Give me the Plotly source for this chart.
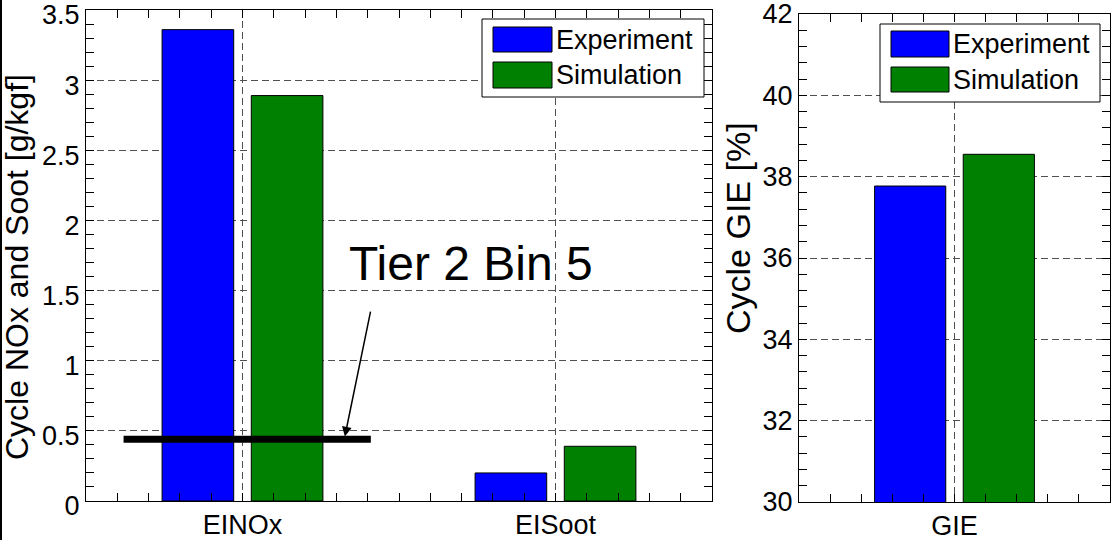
import plotly.graph_objects as go

# ---------------- data ----------------
categories_left = ["EINOx", "EISoot"]
experiment_left = [3.36, 0.20]
simulation_left = [2.89, 0.39]

categories_right = ["GIE"]
experiment_right = [37.77]
simulation_right = [38.55]

series_names = ["Experiment", "Simulation"]
series_colors = ["#0000FF", "#008000"]

left_yticks = [0, 0.5, 1, 1.5, 2, 2.5, 3, 3.5]
left_yticklabels = ["0", "0.5", "1", "1.5", "2", "2.5", "3", "3.5"]
right_yticks = [30, 32, 34, 36, 38, 40, 42]
right_yticklabels = ["30", "32", "34", "36", "38", "40", "42"]

tier_label = "Tier 2 Bin 5"
tier_value = 0.44
tier_x_span = [0.62, 1.41]
arrow_tail = [1.41, 1.36]
arrow_head = [1.327, 0.46]

left_ytitle = "Cycle NOx and Soot [g/kgf]"
right_ytitle = "Cycle GIE [%]"

# ---------------- layout helpers ----------------
W, H = 1115, 540
FONT = "Liberation Sans, Arial, Helvetica, sans-serif"
TICK_SIZE = 27


def px(x):
    return x / W


def py(y):
    return 1 - y / H


pos_left = list(range(1, len(categories_left) + 1))
pos_right = list(range(1, len(categories_right) + 1))

fig = go.Figure()
left_series = [experiment_left, simulation_left]
right_series = [experiment_right, simulation_right]
for name, color, vals in zip(series_names, series_colors, left_series):
    fig.add_trace(go.Bar(x=pos_left, y=vals, name=name, marker_color=color,
                         marker_line=dict(color="black", width=1),
                         xaxis="x", yaxis="y", showlegend=False))
for name, color, vals in zip(series_names, series_colors, right_series):
    fig.add_trace(go.Bar(x=pos_right, y=vals, name=name, marker_color=color,
                         marker_line=dict(color="black", width=1),
                         xaxis="x2", yaxis="y2", showlegend=False))

grid = dict(showgrid=True, gridcolor="#505050", gridwidth=1, griddash="7px,4px")
frame = dict(showline=True, linecolor="black", linewidth=1, mirror="ticks",
             ticks="inside", ticklen=8, tickcolor="black", zeroline=False,
             automargin=False, ticklabeloverflow="allow",
             tickfont=dict(size=TICK_SIZE, family=FONT, color="black"))

fig.update_layout(
    template="none",
    width=W, height=H,
    margin=dict(l=0, r=0, t=0, b=0),
    paper_bgcolor="white", plot_bgcolor="white",
    font=dict(family=FONT, size=TICK_SIZE, color="black"),
    barmode="group", bargap=0.43, bargroupgap=0.197,
    xaxis=dict(domain=[px(86), px(712)], range=[0.5, len(categories_left) + 0.5],
               tickmode="array", tickvals=pos_left, ticktext=categories_left,
               minor=dict(tick0=0.5, dtick=0.1, ticks="inside", ticklen=8,
                          tickcolor="black", showgrid=False),
               anchor="y", **grid, **frame),
    yaxis=dict(domain=[py(501), py(10)], range=[0, 3.5],
               tickmode="array", tickvals=left_yticks, ticktext=left_yticklabels,
               ticklabelshift=5,
               minor=dict(tickmode="linear", tick0=0, dtick=0.1, ticks="inside", ticklen=8,
                          tickcolor="black", showgrid=False),
               anchor="x", **grid, **frame),
    xaxis2=dict(domain=[px(799), px(1110)], range=[0.5, len(categories_right) + 0.5],
                tickmode="array", tickvals=pos_right, ticktext=categories_right,
                minor=dict(tick0=0.5, dtick=0.1, ticks="inside", ticklen=8,
                           tickcolor="black", showgrid=False),
                anchor="y2", **grid, **frame),
    yaxis2=dict(domain=[py(502), py(14)], range=[30, 42],
                tickmode="array", tickvals=right_yticks, ticktext=right_yticklabels,
                minor=dict(tickmode="linear", tick0=30, dtick=0.4, ticks="inside", ticklen=8,
                           tickcolor="black", showgrid=False),
                anchor="x2", **grid, **frame),
)

shapes = []
annotations = []

# Tier 2 Bin 5 line
shapes.append(dict(type="line", xref="x", yref="y", x0=tier_x_span[0], x1=tier_x_span[1],
                   y0=tier_value, y1=tier_value, line=dict(color="black", width=7), layer="above"))
annotations.append(dict(xref="x", yref="y", x=arrow_head[0], y=arrow_head[1],
                        axref="x", ayref="y", ax=arrow_tail[0], ay=arrow_tail[1],
                        showarrow=True, arrowhead=2, arrowsize=1.3, arrowwidth=1.5,
                        arrowcolor="black", text=""))
annotations.append(dict(xref="x", yref="y", x=1.73, y=1.69, text=tier_label,
                        showarrow=False, font=dict(size=48, family=FONT, color="black"),
                        xanchor="center", yanchor="middle"))

# axis titles
annotations.append(dict(xref="paper", yref="paper", x=px(17), y=py(267), text=left_ytitle,
                        textangle=-90, showarrow=False, xanchor="center", yanchor="middle",
                        font=dict(size=32, family=FONT, color="black")))
annotations.append(dict(xref="paper", yref="paper", x=px(738), y=py(228), text=right_ytitle,
                        textangle=-90, showarrow=False, xanchor="center", yanchor="middle",
                        font=dict(size=34, family=FONT, color="black")))

# custom legends (MATLAB style wide patches)
def legend(box, patch_x, patch_rows, text_x):
    x0, y0, x1, y1 = box
    shapes.append(dict(type="rect", xref="paper", yref="paper", x0=px(x0), x1=px(x1),
                       y0=py(y1), y1=py(y0), fillcolor="white",
                       line=dict(color="black", width=1), layer="above"))
    for (r0, r1), name, color in zip(patch_rows, series_names, series_colors):
        shapes.append(dict(type="rect", xref="paper", yref="paper",
                           x0=px(patch_x[0]), x1=px(patch_x[1]), y0=py(r1), y1=py(r0),
                           fillcolor=color, line=dict(color="black", width=1), layer="above"))
        annotations.append(dict(xref="paper", yref="paper", x=px(text_x), y=py((r0 + r1) / 2),
                                text=name, showarrow=False, xanchor="left", yanchor="middle",
                                font=dict(size=TICK_SIZE, family=FONT, color="black")))


legend((482, 19, 704, 97), (493, 552), [(27, 52), (62, 88)], 554)
legend((880, 24, 1100, 102), (891, 949), [(31, 57), (67, 92)], 951)

# left border line of the original figure
shapes.append(dict(type="line", xref="paper", yref="paper", x0=px(1), x1=px(1), y0=0, y1=1,
                   line=dict(color="black", width=2)))

fig.update_layout(shapes=shapes, annotations=annotations)
fig.write_html("out.html")
